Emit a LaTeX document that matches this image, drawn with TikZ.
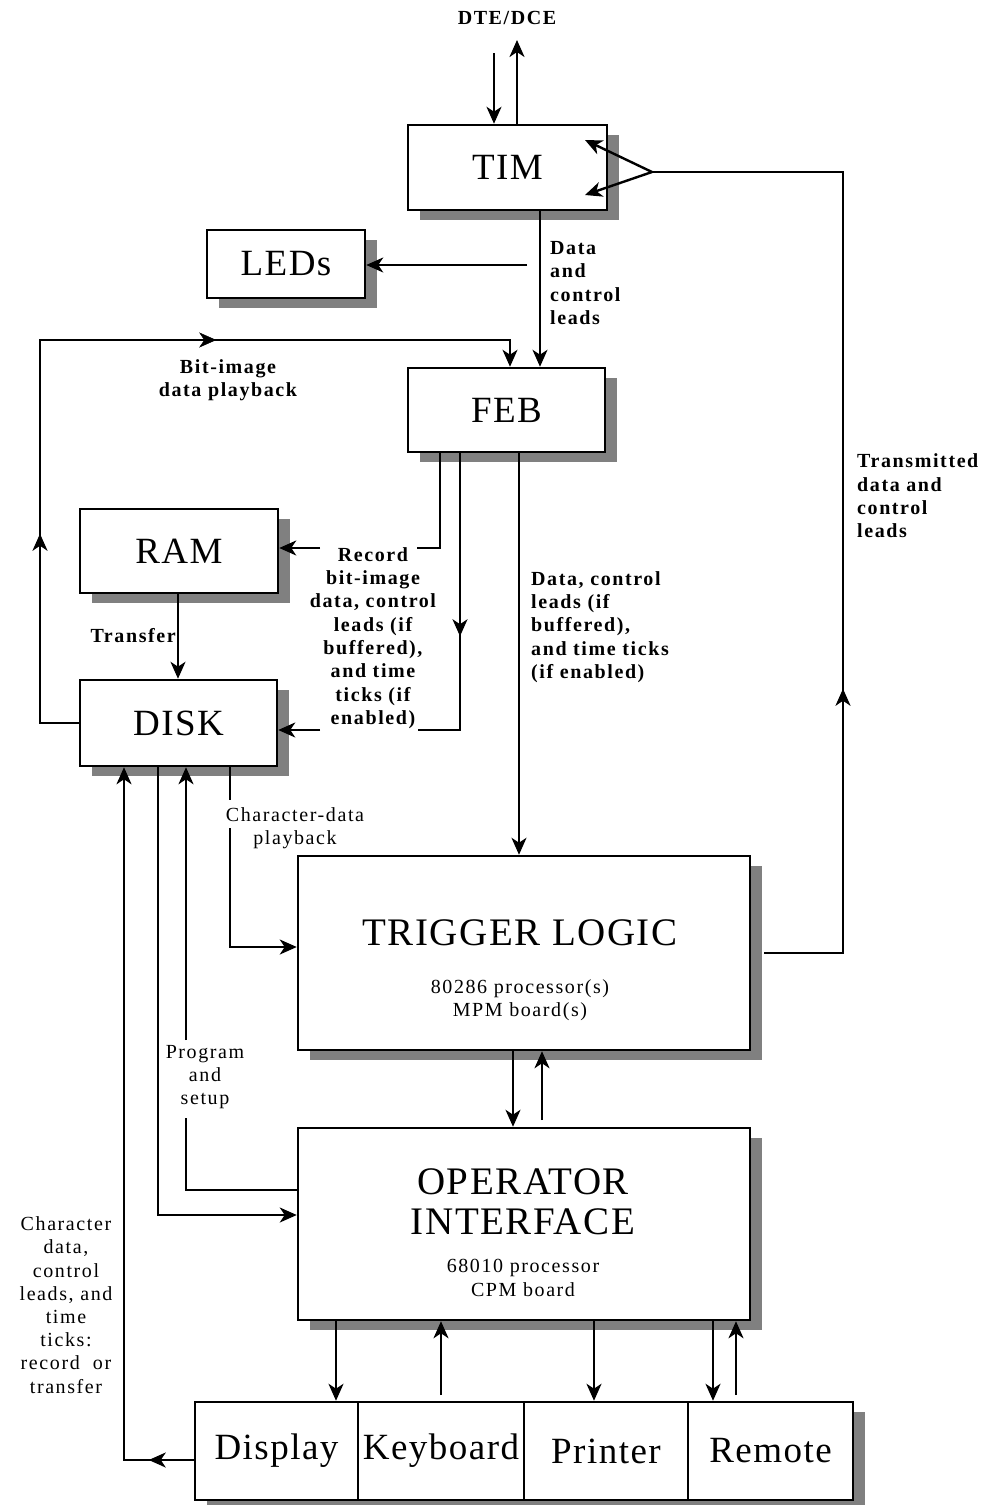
\documentclass[tikz,border=0pt]{standalone}
\usepackage{fontspec}
\setmainfont{Liberation Serif}
\newfontfamily\labfont[LetterSpace=8]{Liberation Serif}
\newfontfamily\bigfont[LetterSpace=4]{Liberation Serif}
\usetikzlibrary{arrows.meta,shadows,decorations.markings}
\tikzset{
  box/.style={draw, line width=2.5pt, fill=white, inner sep=0pt,
    font=\bigfont\fontsize{37}{42}\selectfont,
    drop shadow={shadow xshift=12pt, shadow yshift=-10pt, fill=black!50, opacity=1}},
  bigtxt/.style={inner sep=0pt, align=center, font=\bigfont\fontsize{39}{40}\selectfont},
  lab/.style={inner sep=0pt, align=left, font=\labfont\bfseries\fontsize{20}{23.3}\selectfont},
  labc/.style={inner sep=0pt, align=center, font=\labfont\bfseries\fontsize{20}{23.3}\selectfont},
  rlab/.style={inner sep=0pt, align=center, font=\labfont\fontsize{20}{23.2}\selectfont},
  ln/.style={line width=2.4pt},
  arr/.style={line width=2.4pt, -{Stealth[length=17pt,width=15pt,inset=5pt]}},
  midarr/.style={postaction={decorate}, decoration={markings,
    mark=at position #1 with {\arrow{Stealth[length=17pt,width=15pt,inset=5pt]}}}},
}
\begin{document}
\begin{tikzpicture}[x=1pt,y=-1pt]
\useasboundingbox (0,0) rectangle (987,1505);

% ---- boxes
\node[box, minimum width=199pt, minimum height=85pt] (tim) at (507.5,167.5) {TIM};
\node[box, minimum width=158pt, minimum height=68pt] (leds) at (286,264) {LEDs};
\node[box, minimum width=197pt, minimum height=84pt] (feb) at (506.5,410) {FEB};
\node[box, minimum width=198pt, minimum height=84pt] (ram) at (179,551) {RAM};
\node[box, minimum width=197pt, minimum height=86pt] (disk) at (178.5,723) {DISK};
\node[box, minimum width=452pt, minimum height=194pt] (trig) at (524,953) {};
\node[box, minimum width=452pt, minimum height=192pt] (op) at (524,1224) {};
\node[box, minimum width=163pt, minimum height=98pt] (disp) at (276.5,1451) {Display};
\node[box, minimum width=166pt, minimum height=98pt] (kbd) at (441,1451) {Keyboard};
\node[box, minimum width=164pt, minimum height=98pt] (prn) at (606,1451) {Printer};
\node[box, minimum width=165pt, minimum height=98pt] (rem) at (770.5,1451) {Remote};

\node[bigtxt] (trigt) at (520,933) {TRIGGER LOGIC};
\node[rlab] (trigs) at (520,1000) {80286 processor(s)\\MPM board(s)};
\node[bigtxt] (opt) at (523,1202) {OPERATOR\\INTERFACE};
\node[rlab] (ops) at (523,1278) {68010 processor\\CPM board};

% ---- labels
\node[labc] (dte) at (507,18) {DTE/DCE};
\node[lab, anchor=west] (ldata) at (550,283) {Data\\and\\control\\leads};
\node[labc] (lbit) at (228,380) {Bit-image\\data playback};
\node[lab, anchor=west] (ltx) at (857,496) {Transmitted\\data and\\control\\leads};
\node[labc] (lrec) at (373,638) {Record\\bit-image\\data, control\\leads (if\\buffered),\\and time\\ticks (if\\enabled)};
\node[lab, anchor=west] (ldcl) at (531,627) {Data, control\\leads (if\\buffered),\\and time ticks\\(if enabled)};
\node[labc, anchor=east] (ltr) at (176,636) {Transfer};
\node[rlab] (lchp) at (295,828) {Character-data\\playback};
\node[rlab] (lprog) at (205,1077) {Program\\and\\setup};
\node[rlab] (lchar) at (66,1305) {Character\\data,\\control\\leads, and\\time\\ticks:\\record\ \ or\\transfer};

% ---- DTE/DCE
\coordinate (dtein) at (494,53);
\coordinate (dteout) at (517,40);
\draw[arr] (dtein) -- (494,0 |- tim.north);
\draw[arr] (517,0 |- tim.north) -- (dteout);

% ---- TIM -> FEB, LEDs
\draw[arr] (540,0 |- tim.south) -- (540,0 |- feb.north);
\coordinate (ledsrc) at (527,265);
\draw[arr] (ledsrc) -- (leds.east |- ledsrc);

% ---- transmitted data loop
\coordinate (apex) at (652,172);
\coordinate (timin1) at (585,140);
\coordinate (timin2) at (585,195);
\draw[ln, midarr=343pt] ([xshift=13pt]trig.east) -- (843,0 |- trig.east) -- (843,172) -- (apex);
\draw[arr] (apex) -- (timin1);
\draw[arr] (apex) -- (timin2);

% ---- bit-image playback loop
\draw[arr, midarr=228pt] (disk.west) -- (40,0 |- disk.west) -- (40,340) -- (510,340) -- (510,0 |- feb.north);
\path[midarr=598pt] (disk.west) -- (40,0 |- disk.west) -- (40,340) -- (510,340) -- (510,0 |- feb.north);

% ---- FEB -> RAM
\coordinate (r1) at (417,548);
\coordinate (r2) at (320,548);
\draw[ln] (440,0 |- feb.south) |- (r1);
\draw[arr] (r2) -- (ram.east |- r2);

% ---- FEB -> DISK
\coordinate (d1) at (418,730);
\coordinate (d2) at (320,730);
\draw[ln, midarr=183pt] (460,0 |- feb.south) |- (d1);
\draw[arr] (d2) -- (disk.east |- d2);

% ---- FEB -> TRIGGER
\draw[arr] (519,0 |- feb.south) -- (519,0 |- trig.north);

% ---- RAM -> DISK
\draw[arr] (178,0 |- ram.south) -- (178,0 |- disk.north);

% ---- character-data playback
\coordinate (c1) at (230,800);
\coordinate (c2) at (230,828);
\draw[ln] (230,0 |- disk.south) -- (c1);
\draw[arr] (c2) |- (trig.west |- 0,947);

% ---- program and setup
\coordinate (p1) at (186,1040);
\coordinate (p2) at (186,1118);
\draw[arr] (p1) -- (186,0 |- disk.south);
\draw[ln] (op.west |- 0,1190) -| (p2);

% ---- DISK -> OP
\draw[arr] (158,0 |- disk.south) |- (op.west |- 0,1215);

% ---- Display -> DISK
\draw[arr, midarr=45pt] (disp.west |- 0,1460) -| (124,0 |- disk.south);

% ---- TRIGGER <-> OP
\draw[arr] (513,0 |- trig.south) -- (513,0 |- op.north);
\coordinate (u1) at (542,1120);
\draw[arr] (u1) -- (542,0 |- trig.south);

% ---- OP <-> peripherals
\draw[arr] (336,0 |- op.south) -- (336,0 |- disp.north);
\coordinate (k1) at (441,1395);
\draw[arr] (k1) -- (441,0 |- op.south);
\draw[arr] (594,0 |- op.south) -- (594,0 |- prn.north);
\draw[arr] (713,0 |- op.south) -- (713,0 |- rem.north);
\coordinate (m1) at (736,1395);
\draw[arr] (m1) -- (736,0 |- op.south);
\end{tikzpicture}
\end{document}
